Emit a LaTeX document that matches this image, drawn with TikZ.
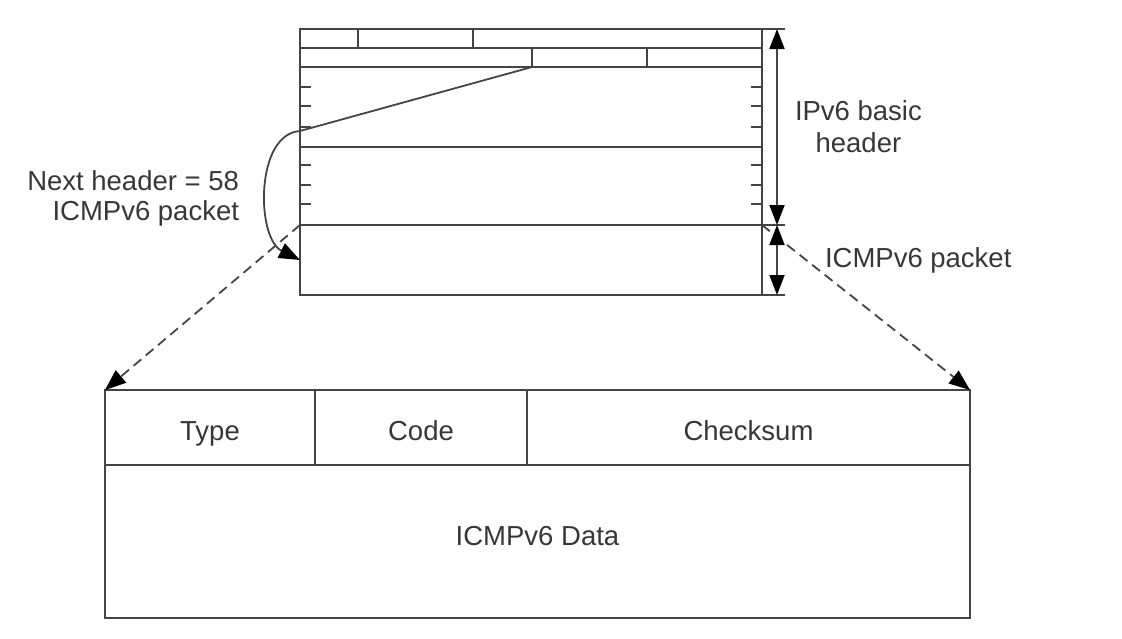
\documentclass[tikz,border=0pt]{standalone}
\usepackage{fontspec}
\setmainfont{Liberation Sans}
\usetikzlibrary{arrows.meta,positioning}
\definecolor{ink}{RGB}{68,68,68}
\definecolor{txt}{RGB}{55,55,55}

\begin{document}
\begin{tikzpicture}[x=1pt,y=-1pt,
  every node/.style={text=txt,inner sep=0pt,outer sep=0pt,font=\fontsize{27.5}{32}\selectfont},
  frame/.style={draw=ink,line width=2.4pt},
  cell/.style={frame,minimum height=75pt,anchor=north west,text height=27pt,text depth=2pt},
  thin/.style={draw=ink,line width=1.8pt},
  tip/.style={-{Triangle[length=21pt,width=16pt,color=black]}},
  dim/.style={thin,{Triangle[length=20pt,width=15pt,color=black]}-{Triangle[length=20pt,width=15pt,color=black]}}]
  \useasboundingbox (0,0) rectangle (1122,638);

  % IPv6 header and the packet it carries
  \node[frame,minimum width=462pt,minimum height=196pt,anchor=north west] (hdr) at (300,29) {};
  \node[frame,minimum width=462pt,minimum height=70pt,anchor=north west] (pkt) at (300,225) {};
  \foreach \y in {48,67,147}
    \draw[frame] (300,\y) -- (762,\y);
  \foreach \x/\y in {358/29,473/29,532/48,647/48}
    \draw[frame] (\x,\y) -- (\x,\y+19);
  \foreach \y in {87,106,127,165,185,204} {
    \draw[thin] (300,\y) -- ++(11,0);
    \draw[thin] (762,\y) -- ++(-11,0);
  }

  % ICMPv6 message
  \node[cell,minimum width=210pt] (type) at (105,390) {Type};
  \node[cell,minimum width=212pt] (code) at (315,390) {Code};
  \node[cell,minimum width=443pt] (chk) at (527,390) {Checksum};
  \node[cell,minimum width=865pt,minimum height=153pt,text height=20pt,text depth=13pt] (data) at (105,465) {ICMPv6 Data};

  % next header field
  \coordinate (nhf) at (532,67);
  \coordinate (nhl) at (300,131);
  \draw[thin] (nhf) -- (nhl);
  \draw[thin,tip] (nhl) .. controls (255,134) and (256,238) .. (pkt.west);
  \node[align=right,anchor=east] (lblnh) at (239,198) {Next header = 58\\[-2pt]ICMPv6 packet};

  % expansion
  \draw[thin,dashed,dash pattern=on 10pt off 6pt,tip] (pkt.north west) -- (type.north west);
  \draw[thin,dashed,dash pattern=on 10pt off 6pt,tip] (pkt.north east) -- (chk.north east);

  % sizes
  \draw[frame] (hdr.north east) -- ++(23,0);
  \draw[thin] (pkt.north east) -- ++(23,0);
  \draw[thin] (pkt.south east) -- ++(23,0);
  \draw[dim] ([xshift=15pt]hdr.north east) -- ([xshift=15pt]hdr.south east);
  \draw[dim] ([xshift=15pt]pkt.north east) -- ([xshift=15pt]pkt.south east);
  \node[align=center,right=33pt of hdr.east] (lblhdr) {IPv6 basic\\header};
  \node[right=63pt of pkt.east] (lblpkt) {ICMPv6 packet};
\end{tikzpicture}
\end{document}
